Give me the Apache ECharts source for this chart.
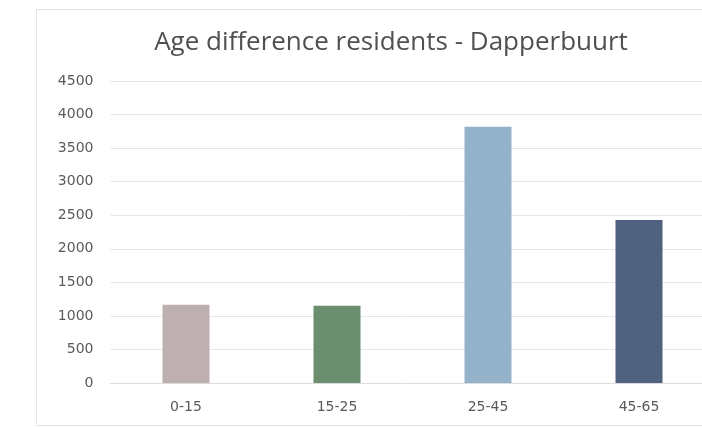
<!DOCTYPE html>
<html>
<head>
<meta charset="utf-8">
<script src="https://cdn.jsdelivr.net/npm/echarts@6/dist/echarts.min.js"></script>
<style>
  html, body { margin: 0; padding: 0; background: #ffffff; }
  #chart { width: 702px; height: 428px; }
</style>
</head>
<body>
<div id="chart"></div>
<script>
// Age groups and resident counts for Dapperbuurt
const ageGroups = ['0-15', '15-25', '25-45', '45-65'];
const residents = [1165, 1150, 3820, 2430];
const barColors = ['#beafb0', '#6b8e6f', '#94b2c9', '#506280'];
const yTicks = { min: 0, max: 4500, step: 500 };

const chart = echarts.init(document.getElementById('chart'), null, { renderer: 'canvas' });

chart.setOption({
  animation: false,
  backgroundColor: '#ffffff',
  title: {
    text: 'Age difference residents - Dapperbuurt',
    left: 386,
    textAlign: 'center',
    top: 25,
    textStyle: {
      fontFamily: 'Open Sans',
      fontWeight: 'normal',
      fontSize: 26,
      color: '#505050'
    }
  },
  // light frame around the chart area
  graphic: [{
    type: 'rect',
    shape: { x: 36.5, y: 9.5, width: 700, height: 416 },
    style: { fill: 'none', stroke: '#e4e4e4', lineWidth: 1 },
    z: -1
  }],
  // plot area runs past the right edge of the canvas
  grid: { left: 110.5, width: 604, top: 81, bottom: 45, outerBoundsMode: 'none' },
  xAxis: {
    type: 'category',
    data: ageGroups,
    axisTick: { show: false },
    axisLine: { lineStyle: { color: '#dcdcdc' } },
    axisLabel: { color: '#5a5a5a', fontSize: 14, margin: 17, fontFamily: 'DejaVu Sans' }
  },
  yAxis: {
    type: 'value',
    min: yTicks.min,
    max: yTicks.max,
    interval: yTicks.step,
    axisLine: { show: false },
    axisTick: { show: false },
    splitLine: { lineStyle: { color: '#e6e6e6' } },
    axisLabel: {
      color: '#5a5a5a',
      fontSize: 14,
      margin: 17,
      fontFamily: 'DejaVu Sans',
      formatter: (v) => String(v)
    }
  },
  series: [{
    type: 'bar',
    barWidth: 47,
    data: residents.map((v, i) => ({ value: v, itemStyle: { color: barColors[i] } }))
  }]
});
</script>
</body>
</html>
